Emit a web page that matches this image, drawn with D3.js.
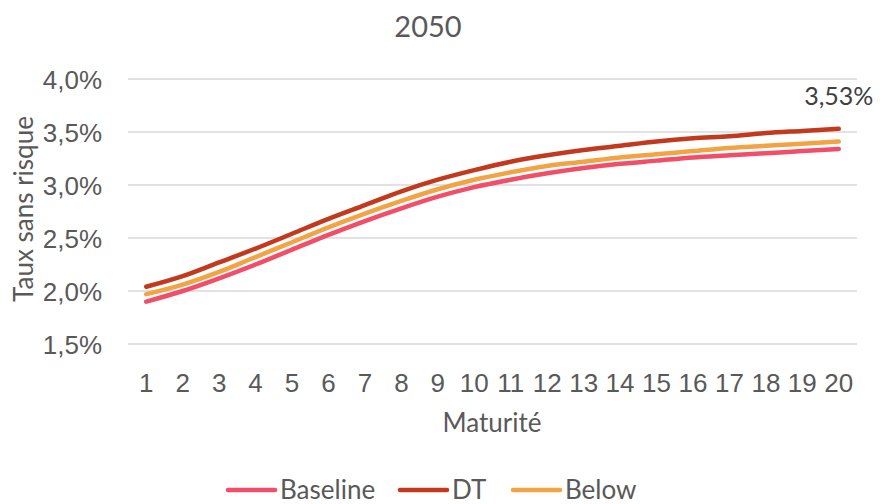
<!DOCTYPE html>
<html><head><meta charset="utf-8">
<script src="https://cdn.jsdelivr.net/npm/d3@7"></script>
<style>
body{margin:0;background:#fff;}
svg{display:block;font-family:Lato, "Open Sans", sans-serif;}
</style></head>
<body><svg id="c" width="880" height="504"></svg>
<script>
const maturities = [1,2,3,4,5,6,7,8,9,10,11,12,13,14,15,16,17,18,19,20];
const baseline = [1.90,2.00,2.12,2.25,2.39,2.53,2.66,2.78,2.89,2.98,3.05,3.11,3.16,3.20,3.23,3.26,3.28,3.30,3.32,3.34];
const dt       = [2.04,2.14,2.27,2.40,2.54,2.68,2.81,2.94,3.05,3.14,3.22,3.28,3.33,3.37,3.41,3.44,3.46,3.49,3.51,3.53];
const below    = [1.97,2.06,2.18,2.32,2.46,2.60,2.73,2.85,2.96,3.05,3.12,3.18,3.22,3.26,3.29,3.32,3.35,3.37,3.39,3.41];
const yTicks = [1.5,2.0,2.5,3.0,3.5,4.0];
const seriesNames = ["Baseline","DT","Below"];
const seriesColors = ["#F24E6A","#C3391D","#F2A444"];

(function(){
const series = [baseline, dt, below].map((v,i)=>({name:seriesNames[i], color:seriesColors[i], values:v}));
const svg = d3.select("#c");
const pL=128, pR=857, pT=79, pB=344;
const x = d3.scaleBand().domain(maturities).range([pL,pR]);
const y = d3.scaleLinear().domain([1.5,4.0]).range([pB,pT]);
const textColor="#595959";
const fmt = v => d3.format(".1f")(v).replace(".",",")+"%";

svg.append("g").selectAll("line").data(yTicks).join("line")
  .attr("x1",pL).attr("x2",pR)
  .attr("y1",d=>y(d)).attr("y2",d=>y(d))
  .attr("stroke","#d9d9d9").attr("stroke-width",1.3);

const ya = svg.append("g").attr("transform",`translate(${pL-26},0)`)
  .call(d3.axisLeft(y).tickValues(yTicks).tickFormat(fmt).tickSize(0).tickPadding(0));
ya.select(".domain").remove();
ya.selectAll("text").attr("fill",textColor).attr("dy","0.36em").style("font-size","26px").style("font-family","inherit");

const xa = svg.append("g").attr("transform",`translate(0,392)`)
  .call(d3.axisBottom(x).tickSize(0).tickPadding(0));
xa.select(".domain").remove();
xa.selectAll("text").attr("fill",textColor).attr("y",0).attr("dy","0").style("font-size","26px").style("font-family","inherit");

const line = d3.line().x((d,i)=>x(maturities[i])+x.bandwidth()/2).y(d=>y(d)).curve(d3.curveMonotoneX);
svg.append("g").selectAll("path").data(series).join("path")
  .attr("d",d=>line(d.values)).attr("fill","none")
  .attr("stroke",d=>d.color).attr("stroke-width",4.5).attr("stroke-linecap","round");

const last = dt[dt.length-1];
svg.append("text").attr("x",x(20)+x.bandwidth()/2).attr("y",y(last)-24)
  .attr("text-anchor","middle").attr("fill","#404040").style("font-size","25px")
  .text(d3.format(".2f")(last).replace(".",",")+"%");

svg.append("text").attr("x",428).attr("y",37).attr("text-anchor","middle")
  .attr("fill",textColor).style("font-size","29px").text("2050");

svg.append("text").attr("x",492).attr("y",432).attr("text-anchor","middle")
  .attr("fill",textColor).style("font-size","26px").text("Maturité");
svg.append("text").attr("transform",`translate(33,209) rotate(-90)`)
  .attr("text-anchor","middle").attr("fill",textColor).style("font-size","26px").text("Taux sans risque");

const legX = [228,400,513];
const lg = svg.append("g").selectAll("g").data(series).join("g")
  .attr("transform",(d,i)=>`translate(${legX[i]},490)`);
lg.append("line").attr("x1",0).attr("x2",47).attr("y1",0).attr("y2",0)
  .attr("stroke",d=>d.color).attr("stroke-width",4.5).attr("stroke-linecap","round");
lg.append("text").attr("x",52).attr("y",9).attr("fill",textColor).style("font-size","26px").text(d=>d.name);
})();
</script></body></html>
